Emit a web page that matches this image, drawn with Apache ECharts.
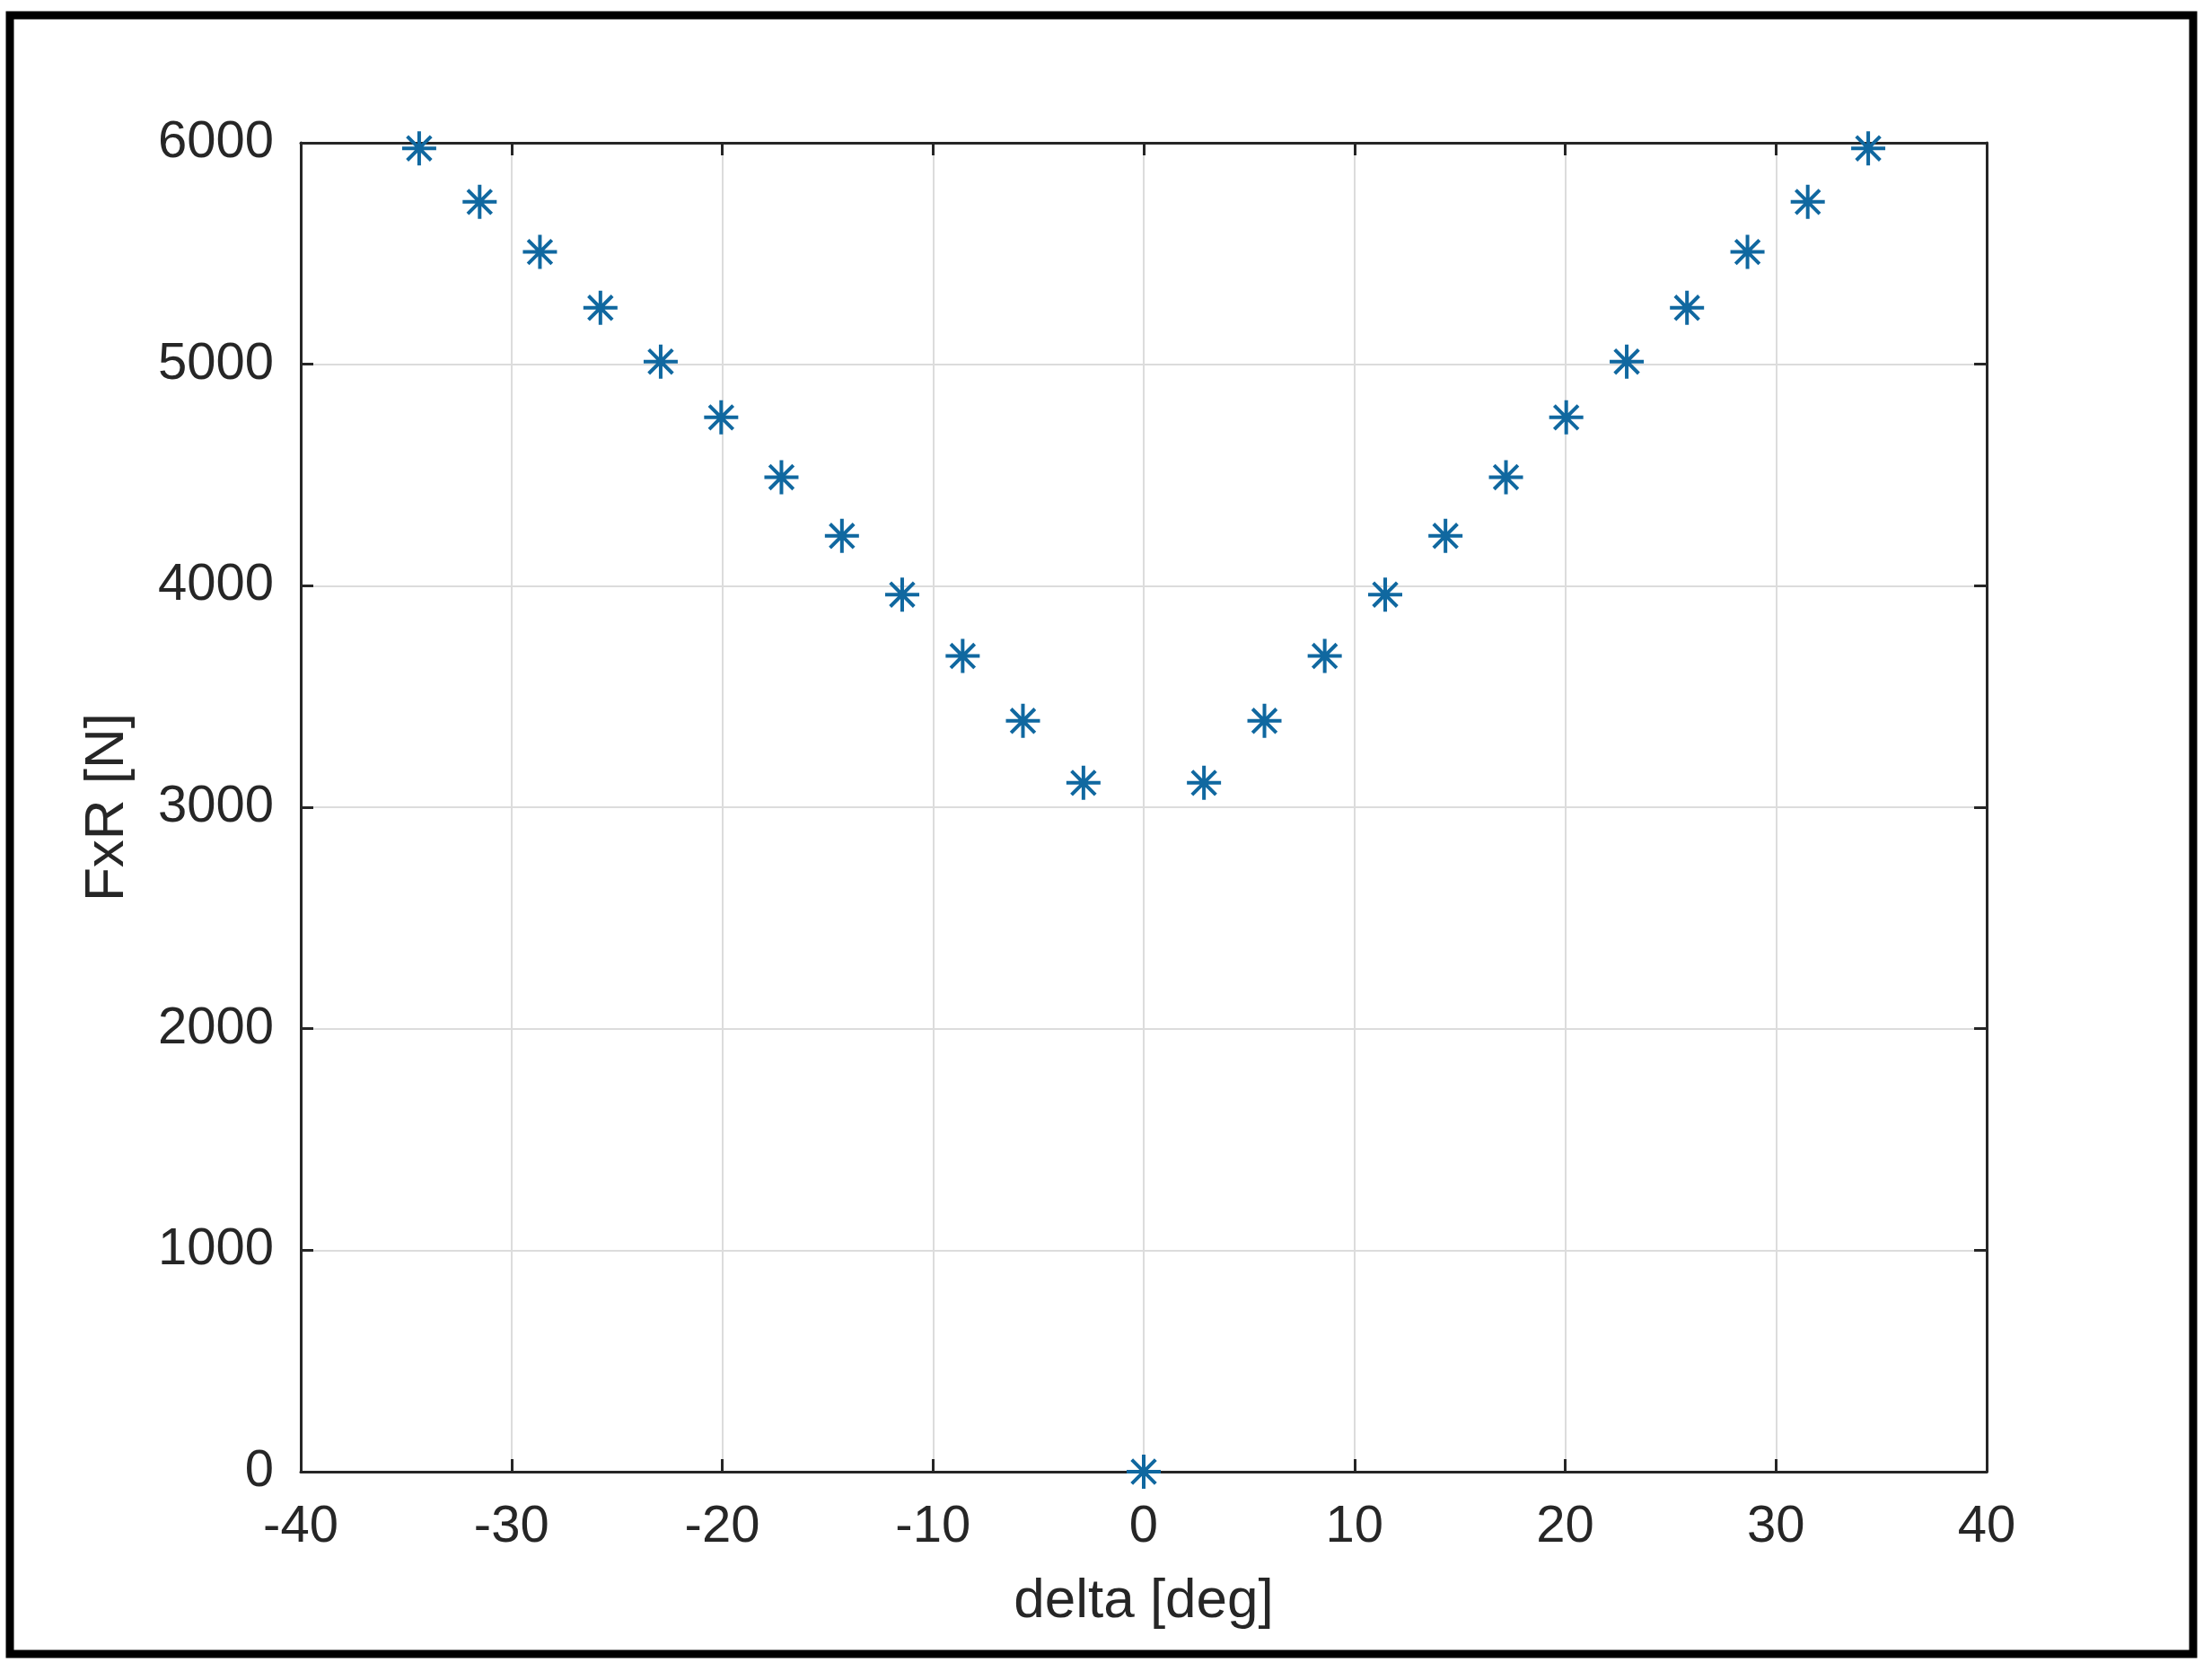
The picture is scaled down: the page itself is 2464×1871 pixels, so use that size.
<!DOCTYPE html>
<html>
<head>
<meta charset="utf-8">
<script src="https://cdn.jsdelivr.net/npm/echarts@6/dist/echarts.min.js"></script>
<style>
html,body{margin:0;padding:0;background:#fff;}
#chart{width:2464px;height:1871px;}
</style>
</head>
<body>
<div id="chart"></div>
<script>
// steering angle (deg)
const deltaDeg = [-34.38, -31.51, -28.65, -25.78, -22.92, -20.05, -17.19, -14.32, -11.46, -8.59, -5.73, -2.86, 0,
                  2.86, 5.73, 8.59, 11.46, 14.32, 17.19, 20.05, 22.92, 25.78, 28.65, 31.51, 34.38];
// FxR values (N)
const fxR = [5975, 5733, 5507, 5255, 5012, 4760, 4490, 4225, 3960, 3683, 3390, 3110, 0,
             3110, 3390, 3683, 3960, 4225, 4490, 4760, 5012, 5255, 5507, 5733, 5975];
const xTicks = [-40, -30, -20, -10, 0, 10, 20, 30, 40];
const yTicks = [0, 1000, 2000, 3000, 4000, 5000, 6000];
const xLabel = 'delta [deg]';
const yLabel = 'FxR [N]';

const FONT = '"Liberation Sans", Arial, Helvetica, sans-serif';
const TXT = '#262626';
const pts = deltaDeg.map((d, i) => [d, fxR[i]]);

const chart = echarts.init(document.getElementById('chart'), null, {renderer: 'canvas'});
const star = 'path://M0,-10L0,10M-10,0L10,0M-7,-7L7,7M-7,7L7,-7';

const baseX = {
  type: 'value', min: xTicks[0], max: xTicks[xTicks.length - 1], interval: 10,
  axisLine: {show: true, onZero: false, lineStyle: {color: TXT, width: 3}},
  axisTick: {show: true, inside: true, length: 14, lineStyle: {color: TXT, width: 3}},
  splitLine: {show: false}
};
const baseY = {
  type: 'value', min: yTicks[0], max: yTicks[yTicks.length - 1], interval: 1000,
  axisLine: {show: true, onZero: false, lineStyle: {color: TXT, width: 3}},
  axisTick: {show: true, inside: true, length: 14, lineStyle: {color: TXT, width: 3}},
  splitLine: {show: false}
};

chart.setOption({
  animation: false,
  backgroundColor: '#ffffff',
  graphic: [{
    type: 'rect', shape: {x: 11, y: 17, width: 2432, height: 1825},
    style: {fill: 'none', stroke: '#000', lineWidth: 9}, z: 100
  }],
  grid: {left: 335, right: 251, top: 159, bottom: 232, show: false},
  xAxis: [
    Object.assign({}, baseX, {
      position: 'bottom',
      splitLine: {show: true, lineStyle: {color: '#dcdcdc', width: 2}},
      axisLabel: {show: true, color: TXT, fontSize: 58, fontFamily: FONT, margin: 33,
                  formatter: v => String(v)},
      name: xLabel, nameLocation: 'middle', nameGap: 114,
      nameTextStyle: {color: TXT, fontSize: 62, fontFamily: FONT}
    }),
    Object.assign({}, baseX, {position: 'top', axisLabel: {show: false}})
  ],
  yAxis: [
    Object.assign({}, baseY, {
      position: 'left',
      splitLine: {show: true, lineStyle: {color: '#dcdcdc', width: 2}},
      axisLabel: {show: true, color: TXT, fontSize: 58, fontFamily: FONT, margin: 30,
                  formatter: v => String(v)},
      name: yLabel, nameLocation: 'middle', nameGap: 184, nameRotate: 90,
      nameTextStyle: {color: TXT, fontSize: 62, fontFamily: FONT}
    }),
    Object.assign({}, baseY, {position: 'right', axisLabel: {show: false}})
  ],
  series: [{
    type: 'scatter',
    xAxisIndex: 0, yAxisIndex: 0,
    data: pts,
    symbol: star,
    symbolSize: 38,
    itemStyle: {color: 'none', borderColor: '#1068a0', borderWidth: 4, opacity: 1},
    clip: false,
    z: 10
  }]
});
</script>
</body>
</html>
